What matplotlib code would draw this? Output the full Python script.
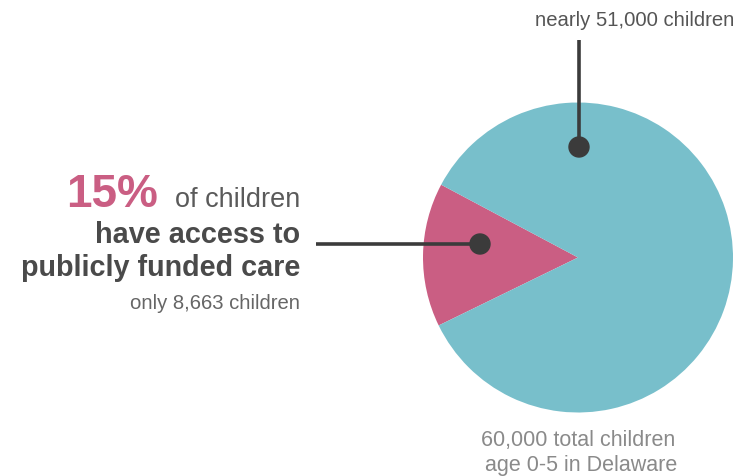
import matplotlib
matplotlib.use("Agg")
import matplotlib.pyplot as plt
from matplotlib.patches import Circle

# Data
categories = ["publicly funded care", "no access"]
shares = [15, 85]
colors = ["#CA5E83", "#78BFCB"]
headline_pct = "15%"
label_access = "only 8,663 children"
label_rest = "nearly 51,000 children"
total_lines = ["60,000 total children", "age 0-5 in Delaware"]

W, H = 741, 476
fig = plt.figure(figsize=(W / 100, H / 100), dpi=100)
ax = fig.add_axes([0, 0, 1, 1])
FONT = "Liberation Sans"

def Y(y):
    return H - y

cx, cy, r = 578, 257.5, 155
ax.pie(shares, colors=colors, startangle=152, counterclock=True,
       center=(cx, Y(cy)), radius=r, wedgeprops=dict(linewidth=0))
ax.set_xlim(0, W)
ax.set_ylim(0, H)
ax.set_aspect("equal")
ax.axis("off")

dark = "#3b3b3b"
# leader lines and dots
ax.plot([316, 480], [Y(244), Y(244)], color=dark, lw=2.6, solid_capstyle="butt", zorder=5)
ax.add_patch(Circle((480, Y(244)), 10, color=dark, zorder=6))
ax.plot([579, 579], [Y(40), Y(147)], color=dark, lw=2.6, solid_capstyle="butt", zorder=5)
ax.add_patch(Circle((579, Y(147)), 10, color=dark, zorder=6))

# left text block
ax.text(300, Y(207), "of children", ha="right", va="baseline", fontsize=19.5,
        color="#5a5a5a", family=FONT)
ax.text(158, Y(207), headline_pct, ha="right", va="baseline", fontsize=33,
        fontweight="bold", color=colors[0], family=FONT)
ax.text(300, Y(243), "have access to", ha="right", va="baseline", fontsize=20.8,
        fontweight="bold", color="#4a4a4a", family=FONT)
ax.text(300, Y(276), "publicly funded care", ha="right", va="baseline", fontsize=20.7,
        fontweight="bold", color="#4a4a4a", family=FONT)
ax.text(300, Y(309), label_access, ha="right", va="baseline", fontsize=14.6,
        color="#666666", family=FONT)

# top label
ax.text(734, Y(26), label_rest, ha="right", va="baseline", fontsize=14.6,
        color="#555555", family=FONT)

# bottom label
ax.text(578, Y(446), total_lines[0], ha="center", va="baseline", fontsize=15.5,
        color="#8a8a8a", family=FONT)
ax.text(581, Y(471), total_lines[1], ha="center", va="baseline", fontsize=15.5,
        color="#8a8a8a", family=FONT)

fig.savefig("out.png", dpi=100, facecolor="white")
